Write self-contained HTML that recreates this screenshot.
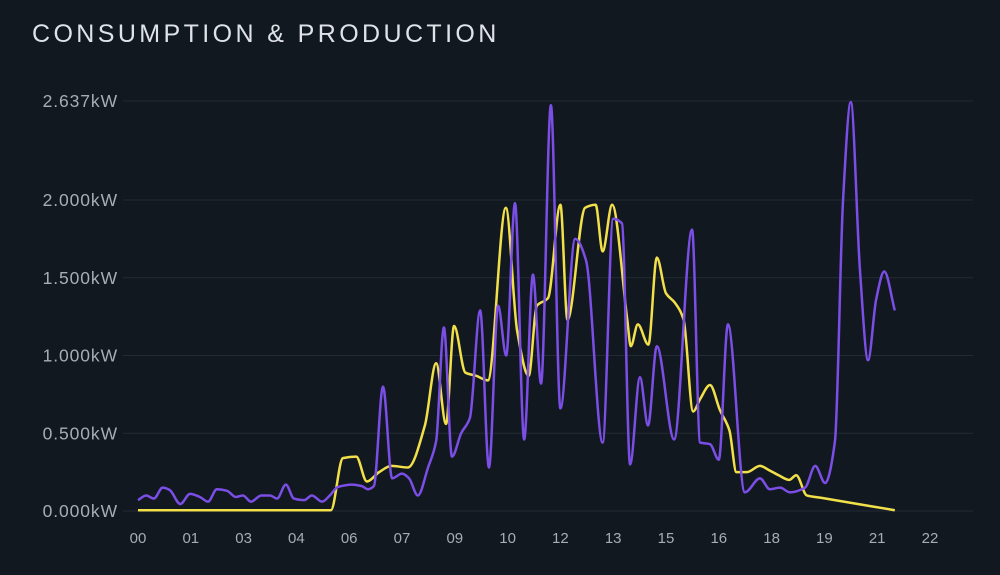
<!DOCTYPE html>
<html><head><meta charset="utf-8">
<style>
html,body{margin:0;padding:0;background:#111820;}
body{width:1000px;height:575px;overflow:hidden;font-family:"Liberation Sans",sans-serif;}
#title{position:absolute;left:32px;top:20px;font-size:25px;letter-spacing:3.4px;color:#dfe3e8;white-space:nowrap;}
svg{position:absolute;left:0;top:0;}
</style></head>
<body>
<div id="title">CONSUMPTION &amp; PRODUCTION</div>
<svg id="chart" width="1000" height="575"></svg>
<script>
const yTickValues=[0,0.5,1.0,1.5,2.0,2.637];
const yTickLabels=["0.000kW","0.500kW","1.000kW","1.500kW","2.000kW","2.637kW"];
const xTickHours=[0,1.5,3,4.5,6,7.5,9,10.5,12,13.5,15,16.5,18,19.5,21,22.5];
const xTickLabels=["00","01","03","04","06","07","09","10","12","13","15","16","18","19","21","22"];
const consHours=[0,0.23,0.45,0.7,0.9,1.2,1.48,1.76,1.99,2.24,2.53,2.78,2.98,3.21,3.5,3.75,3.95,4.2,4.43,4.72,4.94,5.23,5.45,5.68,6.08,6.36,6.53,6.7,6.96,7.22,7.5,7.7,7.95,8.24,8.47,8.69,8.92,9.18,9.43,9.72,9.97,10.23,10.46,10.71,10.97,11.22,11.45,11.73,12.0,12.42,12.73,13.2,13.5,13.75,13.98,14.26,14.49,14.74,15.23,15.74,15.97,16.25,16.5,16.76,17.24,17.67,17.95,18.24,18.52,18.95,19.24,19.52,19.8,20.03,20.25,20.51,20.74,20.97,21.2,21.5];
const consValues=[0.07,0.1,0.08,0.15,0.135,0.045,0.11,0.09,0.06,0.14,0.13,0.09,0.1,0.06,0.1,0.1,0.08,0.17,0.08,0.07,0.1,0.06,0.1,0.155,0.17,0.16,0.14,0.16,0.8,0.21,0.24,0.21,0.1,0.28,0.45,1.18,0.35,0.5,0.6,1.29,0.28,1.32,1.0,1.98,0.46,1.52,0.82,2.61,0.66,1.75,1.61,0.44,1.88,1.85,0.30,0.86,0.55,1.06,0.46,1.81,0.44,0.43,0.33,1.2,0.12,0.21,0.14,0.15,0.12,0.15,0.29,0.18,0.45,2.0,2.63,1.55,0.97,1.36,1.54,1.29];
const prodHours=[0,5.48,5.82,6.2,6.5,6.85,7.2,7.67,8.15,8.47,8.75,8.98,9.3,9.6,9.94,10.45,10.77,11.1,11.33,11.65,12.0,12.2,12.7,13.0,13.2,13.47,13.9,14.0,14.2,14.5,14.74,15.0,15.25,15.5,15.77,15.97,16.25,16.53,16.8,17.0,17.3,17.67,17.95,18.2,18.5,18.7,19.0,19.4,21.5];
const prodValues=[0.005,0.005,0.34,0.35,0.19,0.25,0.29,0.28,0.55,0.95,0.56,1.19,0.89,0.87,0.84,1.95,1.16,0.87,1.32,1.37,1.97,1.23,1.95,1.97,1.67,1.97,1.23,1.06,1.2,1.07,1.63,1.4,1.34,1.23,0.64,0.72,0.81,0.65,0.52,0.25,0.25,0.29,0.26,0.23,0.2,0.23,0.1,0.085,0.005];

const NS="http://www.w3.org/2000/svg";
const svg=document.getElementById('chart');
const X0=138, PXH=35.2, Y0=511, PXK=410/2.637;
const xs=h=>X0+h*PXH;
const ys=v=>Y0-v*PXK;
function mk(tag,attrs){const e=document.createElementNS(NS,tag);for(const k in attrs)e.setAttribute(k,attrs[k]);svg.appendChild(e);return e;}
yTickValues.forEach((v,i)=>{
  const g=mk('line',{x1:123,x2:973,y1:ys(v),y2:ys(v),stroke:'#222a33','stroke-width':1});
  
  
  const t=mk('text',{x:118,y:ys(v)+6,'text-anchor':'end','font-size':17.5,'letter-spacing':0.9,fill:'#a8adb4','font-family':'Liberation Sans, sans-serif'});
  t.textContent=yTickLabels[i];
  
  
});
xTickHours.forEach((h,i)=>{
  const t=mk('text',{x:xs(h),y:543,'text-anchor':'middle','font-size':15,fill:'#a8adb4','font-family':'Liberation Sans, sans-serif'});
  t.textContent=xTickLabels[i];
  
  
});
function pathD(hs,vs){
  const p=hs.map((h,i)=>[xs(h),ys(vs[i])]);
  const n=p.length, dl=[], m=[];
  for(let i=0;i<n-1;i++) dl.push((p[i+1][1]-p[i][1])/(p[i+1][0]-p[i][0]));
  for(let i=0;i<n;i++){
    if(i===0) m.push(dl[0]); else if(i===n-1) m.push(dl[n-2]);
    else if(dl[i-1]*dl[i]<=0) m.push(0);
    else { const a=dl[i-1],b=dl[i]; m.push(2/(1/a+1/b)); }
  }
  let d='M'+p[0][0]+','+p[0][1];
  for(let i=0;i<n-1;i++){
    const h=(p[i+1][0]-p[i][0])/3;
    d+=` C${p[i][0]+h},${p[i][1]+m[i]*h} ${p[i+1][0]-h},${p[i+1][1]-m[i+1]*h} ${p[i+1][0]},${p[i+1][1]}`;
  }
  return d;
}
const pl=mk('path',{d:pathD(prodHours,prodValues),fill:'none',stroke:'#f2e04a','stroke-width':2.5,'stroke-linejoin':'round'});


const cl=mk('path',{d:pathD(consHours,consValues),fill:'none',stroke:'#7b4ee6','stroke-width':2.5,'stroke-linejoin':'round'});


</script>
</body></html>
